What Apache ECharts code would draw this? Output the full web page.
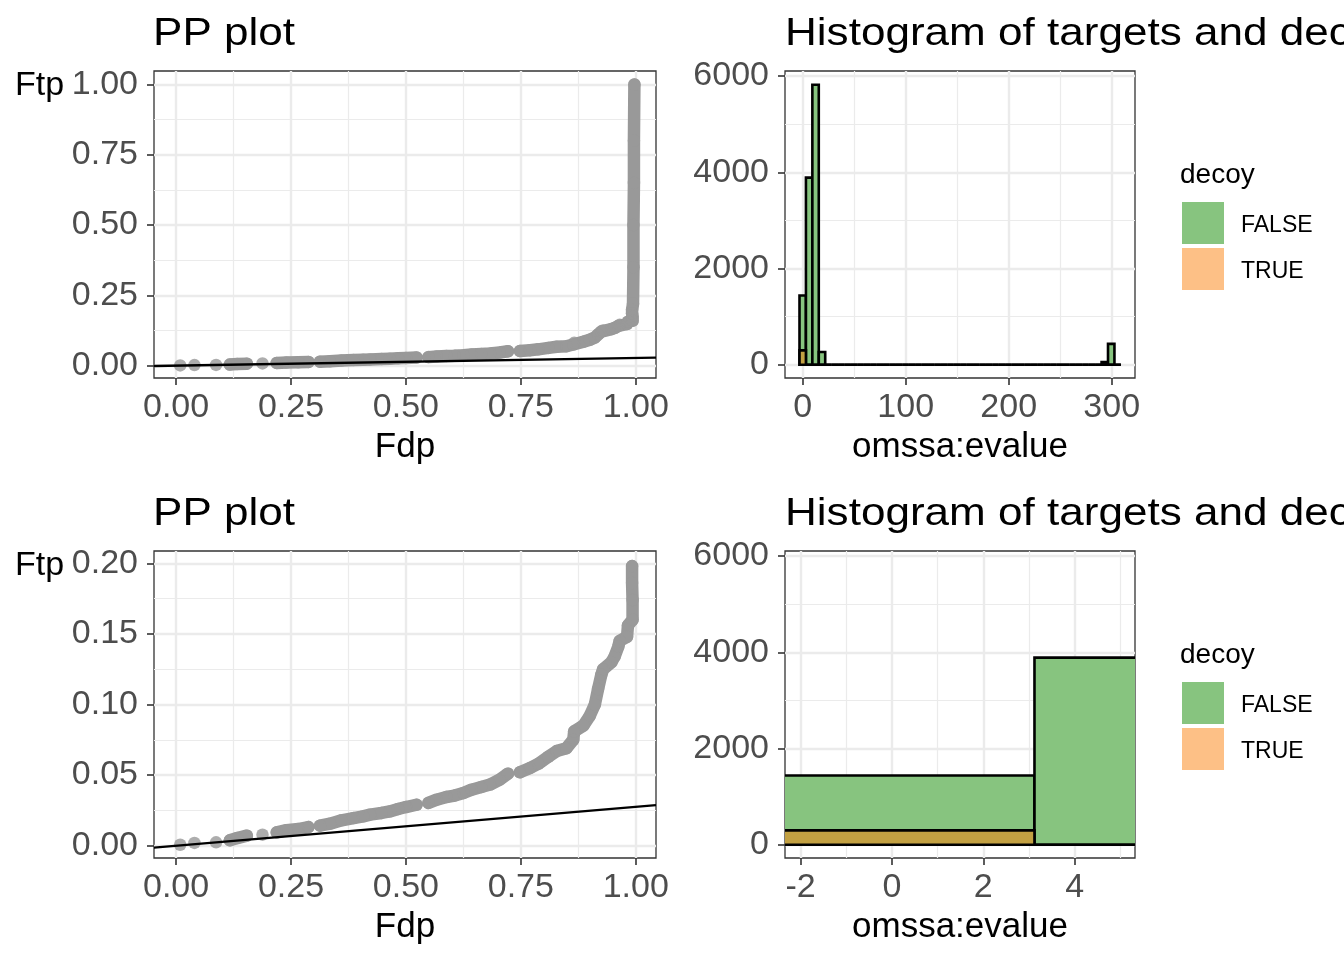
<!DOCTYPE html>
<html><head><meta charset="utf-8">
<script src="https://cdn.jsdelivr.net/npm/echarts@6/dist/echarts.min.js"></script>
<style>html,body{margin:0;padding:0;background:#fff}#c{width:1344px;height:960px}</style>
</head><body><div id="c"></div>
<script>
// ---------- PP plot data ----------
const ppFdp = [0.009,0.040,0.087, 0.117,0.133,0.154, 0.188,
  0.219,0.240,0.266,0.288,
  0.313,0.335,0.360,0.386,0.407,0.422,0.447,0.465,0.483,0.500,0.523,
  0.549,0.567,0.588,0.606,0.625,0.643,0.664,0.683,0.704,0.722,
  0.748,0.770,0.788,0.810,0.828,0.849,0.864,0.866,0.886,0.900,0.911,0.918,0.925,0.929,0.947,0.954,0.962,0.965,0.981,0.983,0.993,0.993,0.992,0.992,
  0.994,0.995,0.995,0.996,0.996,0.997];
const ppFtp = [0.0007,0.0020,0.0024, 0.0038,0.0054,0.0071, 0.0078,
  0.0095,0.0110,0.0118,0.0132,
  0.0142,0.0156,0.0180,0.0196,0.0208,0.0220,0.0232,0.0243,0.0260,0.0274,0.0290,
  0.0303,0.0326,0.0345,0.0355,0.0373,0.0397,0.0416,0.0433,0.0468,0.0510,
  0.052,0.055,0.058,0.063,0.067,0.069,0.075,0.081,0.085,0.092,0.100,0.111,0.121,0.125,0.130,0.134,0.141,0.145,0.148,0.156,0.160,0.174,0.186,0.198,
  0.22,0.35,0.50,0.65,0.80,1.00];
// which run of touching dots each point belongs to
const ppRun = [1,2,3, 4,4,4, 5,
  6,6,6,6,
  7,7,7,7,7,7,7,7,7,7,7,
  8,8,8,8,8,8,8,8,8,8,
  9,9,9,9,9,9,9,9,9,9,9,9,9,9,9,9,9,9,9,9,9,9,9,9,
  9,9,9,9,9,9];
const ablineSlope = 0.0275;
const ablineIntercept = 0;
const zoomFtpMax = 0.2;

// ---------- Histogram data (50 bins of omssa:evalue) ----------
const binStart = -3.12;
const binWidth = 6.24;
const countsFalse = [1440,3890,5820,265,0,0,0,0,0,0,
  0,0,0,0,0,0,0,0,0,0,
  0,0,0,0,0,0,0,0,0,0,
  0,0,0,0,0,0,0,0,0,0,
  0,0,0,0,0,0,0,55,435,0];
const countsTrue = [300,0,0,0,0,0,0,0,0,0,
  0,0,0,0,0,0,0,0,0,0,
  0,0,0,0,0,0,0,0,0,0,
  0,0,0,0,0,0,0,0,0,0,
  0,0,0,0,0,0,0,0,0,0];
const decoyLevels = ['FALSE','TRUE'];

// ---------- ticks ----------
const ppTicks = [0,0.25,0.5,0.75,1];
const ppMinor = [0.125,0.375,0.625,0.875];
const ppZoomTicks = [0,0.05,0.1,0.15,0.2];
const ppZoomMinor = [0.025,0.075,0.125,0.175];
const histXTicks = [0,100,200,300];
const histXMinor = [50,150,250];
const histZoomXTicks = [-2,0,2,4];
const histZoomXMinor = [-1,1,3,5];
const histYTicks = [0,2000,4000,6000];
const histYMinor = [1000,3000,5000];

// ---------- axis ranges ----------
const ppXRange = [-0.048,1.044];
const ppYRange = [-0.044,1.048];
const ppZoomYRange = [-0.0087,0.2087];
const histXRange = [-17.2,322.6];
const histZoomXRange = [-2.34,5.32];
const histYRange = [-275,6105];

const FONT = "'Liberation Sans', Arial, Helvetica, sans-serif";
const GREEN = '#87C47F', ORANGE = '#FDC086', BROWN = '#C2A042';

function axis(grid, range, major, minor, isX, fmt) {
  const mk = (vals, isMajor) => ({
    type: 'value', gridIndex: grid, min: range[0], max: range[1],
    position: isX ? 'bottom' : 'left',
    axisLine: {show: false, onZero: false},
    axisTick: {show: isMajor, customValues: vals, length: 7, lineStyle: {color: '#333', width: 1.6}},
    axisLabel: {show: isMajor, customValues: vals, color: '#4D4D4D', fontSize: 34, fontFamily: FONT,
      margin: isX ? 13 : 16, formatter: fmt},
    splitLine: {show: true, lineStyle: {color: '#EBEBEB', width: isMajor ? 2.4 : 1.2}},
    z: isMajor ? 1 : 0
  });
  return [mk(major, true), mk(minor, false)];
}
const f2 = v => v.toFixed(2);
const f0 = v => String(v);

const grids = [
  {left: 154, top: 71, width: 502, height: 307},
  {left: 785, top: 71, width: 350, height: 307},
  {left: 154, top: 551, width: 502, height: 307},
  {left: 785, top: 551, width: 350, height: 307}
].map(g => Object.assign(g, {show: true, borderColor: '#333', borderWidth: 1.3, backgroundColor: 'transparent', containLabel: false}));

const xAxes = [].concat(
  axis(0, ppXRange, ppTicks, ppMinor, true, f2),
  axis(1, histXRange, histXTicks, histXMinor, true, f0),
  axis(2, ppXRange, ppTicks, ppMinor, true, f2),
  axis(3, histZoomXRange, histZoomXTicks, histZoomXMinor, true, f0)
);
const yAxes = [].concat(
  axis(0, ppYRange, ppTicks, ppMinor, false, f2),
  axis(1, histYRange, histYTicks, histYMinor, false, f0),
  axis(2, ppZoomYRange, ppZoomTicks, ppZoomMinor, false, f2),
  axis(3, histYRange, histYTicks, histYMinor, false, f0)
);

function ppSeries(axisIdx, maxFtp) {
  const pts = [], band = [];
  let lastRun = null;
  for (let i = 0; i < ppFdp.length; i++) {
    if (ppFtp[i] > maxFtp) continue;
    pts.push([ppFdp[i], ppFtp[i]]);
    if (lastRun !== null && ppRun[i] !== lastRun) band.push(['-', '-']);
    band.push([ppFdp[i], ppFtp[i]]);
    lastRun = ppRun[i];
  }
  const ab = ppXRange.map(x => [x, ablineIntercept + ablineSlope * x]);
  return [
    {type: 'line', xAxisIndex: axisIdx, yAxisIndex: axisIdx, data: band, showSymbol: false, connectNulls: false,
      lineStyle: {color: '#999999', width: 12.5, cap: 'round', join: 'round'}, silent: true, animation: false, z: 2, clip: true},
    {type: 'scatter', xAxisIndex: axisIdx, yAxisIndex: axisIdx, data: pts, symbolSize: 12.5,
      itemStyle: {color: '#999999'}, silent: true, animation: false, z: 2, clip: true},
    {type: 'line', xAxisIndex: axisIdx, yAxisIndex: axisIdx, data: ab, showSymbol: false,
      lineStyle: {color: '#000', width: 2.3}, silent: true, animation: false, z: 3, clip: true}
  ];
}

function histData(counts) {
  return counts.map((c, k) => [binStart + k * binWidth, binStart + (k + 1) * binWidth, c]);
}
function histSeries(axisIdx, name, counts, fill, legendColor) {
  return {
    type: 'custom', name: name, xAxisIndex: axisIdx, yAxisIndex: axisIdx, clip: true, animation: false, silent: true,
    itemStyle: {color: legendColor},
    data: histData(counts),
    renderItem: function (params, api) {
      const a = api.coord([api.value(0), api.value(2)]);
      const b = api.coord([api.value(1), 0]);
      return {type: 'rect', shape: {x: a[0], y: a[1], width: b[0] - a[0], height: b[1] - a[1]},
        style: {fill: fill, stroke: '#000', lineWidth: 2.6}};
    },
    z: 2
  };
}

function legendAt(top) {
  return {left: 1182, top: top, orient: 'vertical', itemWidth: 42, itemHeight: 42, itemGap: 4, padding: 0,
    icon: 'rect', data: decoyLevels, selectedMode: false,
    itemStyle: {borderWidth: 0},
    formatter: name => '{t|' + name + '}',
    textStyle: {fontSize: 23, color: '#000', fontFamily: FONT,
      rich: {t: {fontSize: 23, color: '#000', fontFamily: FONT, padding: [6, 0, 0, 12]}}}};
}

function txt(text, x, y, size, align, sx) {
  return {type: 'text', x: x, y: y, scaleX: sx || 1, silent: true,
    style: {text: text, fontSize: size, fontFamily: FONT, fill: '#000', align: align, verticalAlign: 'middle',
      textAlign: align, textVerticalAlign: 'middle'}};
}

const option = {
  animation: false,
  backgroundColor: '#fff',
  grid: grids,
  xAxis: xAxes,
  yAxis: yAxes,
  legend: [legendAt(202), legendAt(682)],
  series: [].concat(
    ppSeries(0, Infinity),
    [histSeries(2, decoyLevels[0], countsFalse, GREEN, GREEN), histSeries(2, decoyLevels[1], countsTrue, BROWN, ORANGE)],
    ppSeries(4, zoomFtpMax),
    [histSeries(6, decoyLevels[0], countsFalse, GREEN, GREEN), histSeries(6, decoyLevels[1], countsTrue, BROWN, ORANGE)]
  ),
  graphic: [
    txt('PP plot', 153, 34, 39, 'left', 1.13),
    txt('Histogram of targets and decoys', 785, 34, 39, 'left', 1.13),
    txt('PP plot', 153, 514, 39, 'left', 1.13),
    txt('Histogram of targets and decoys', 785, 514, 39, 'left', 1.13),
    txt('Ftp', 15, 86, 34, 'left'),
    txt('Ftp', 15, 566, 34, 'left'),
    txt('Fdp', 405, 447, 35, 'center'),
    txt('Fdp', 405, 927, 35, 'center'),
    txt('omssa:evalue', 960, 447, 35, 'center'),
    txt('omssa:evalue', 960, 927, 35, 'center'),
    txt('decoy', 1180, 175, 28, 'left'),
    txt('decoy', 1180, 655, 28, 'left')
  ]
};
const chart = echarts.init(document.getElementById('c'), null, {renderer: 'canvas'});
chart.setOption(option);
</script></body></html>
